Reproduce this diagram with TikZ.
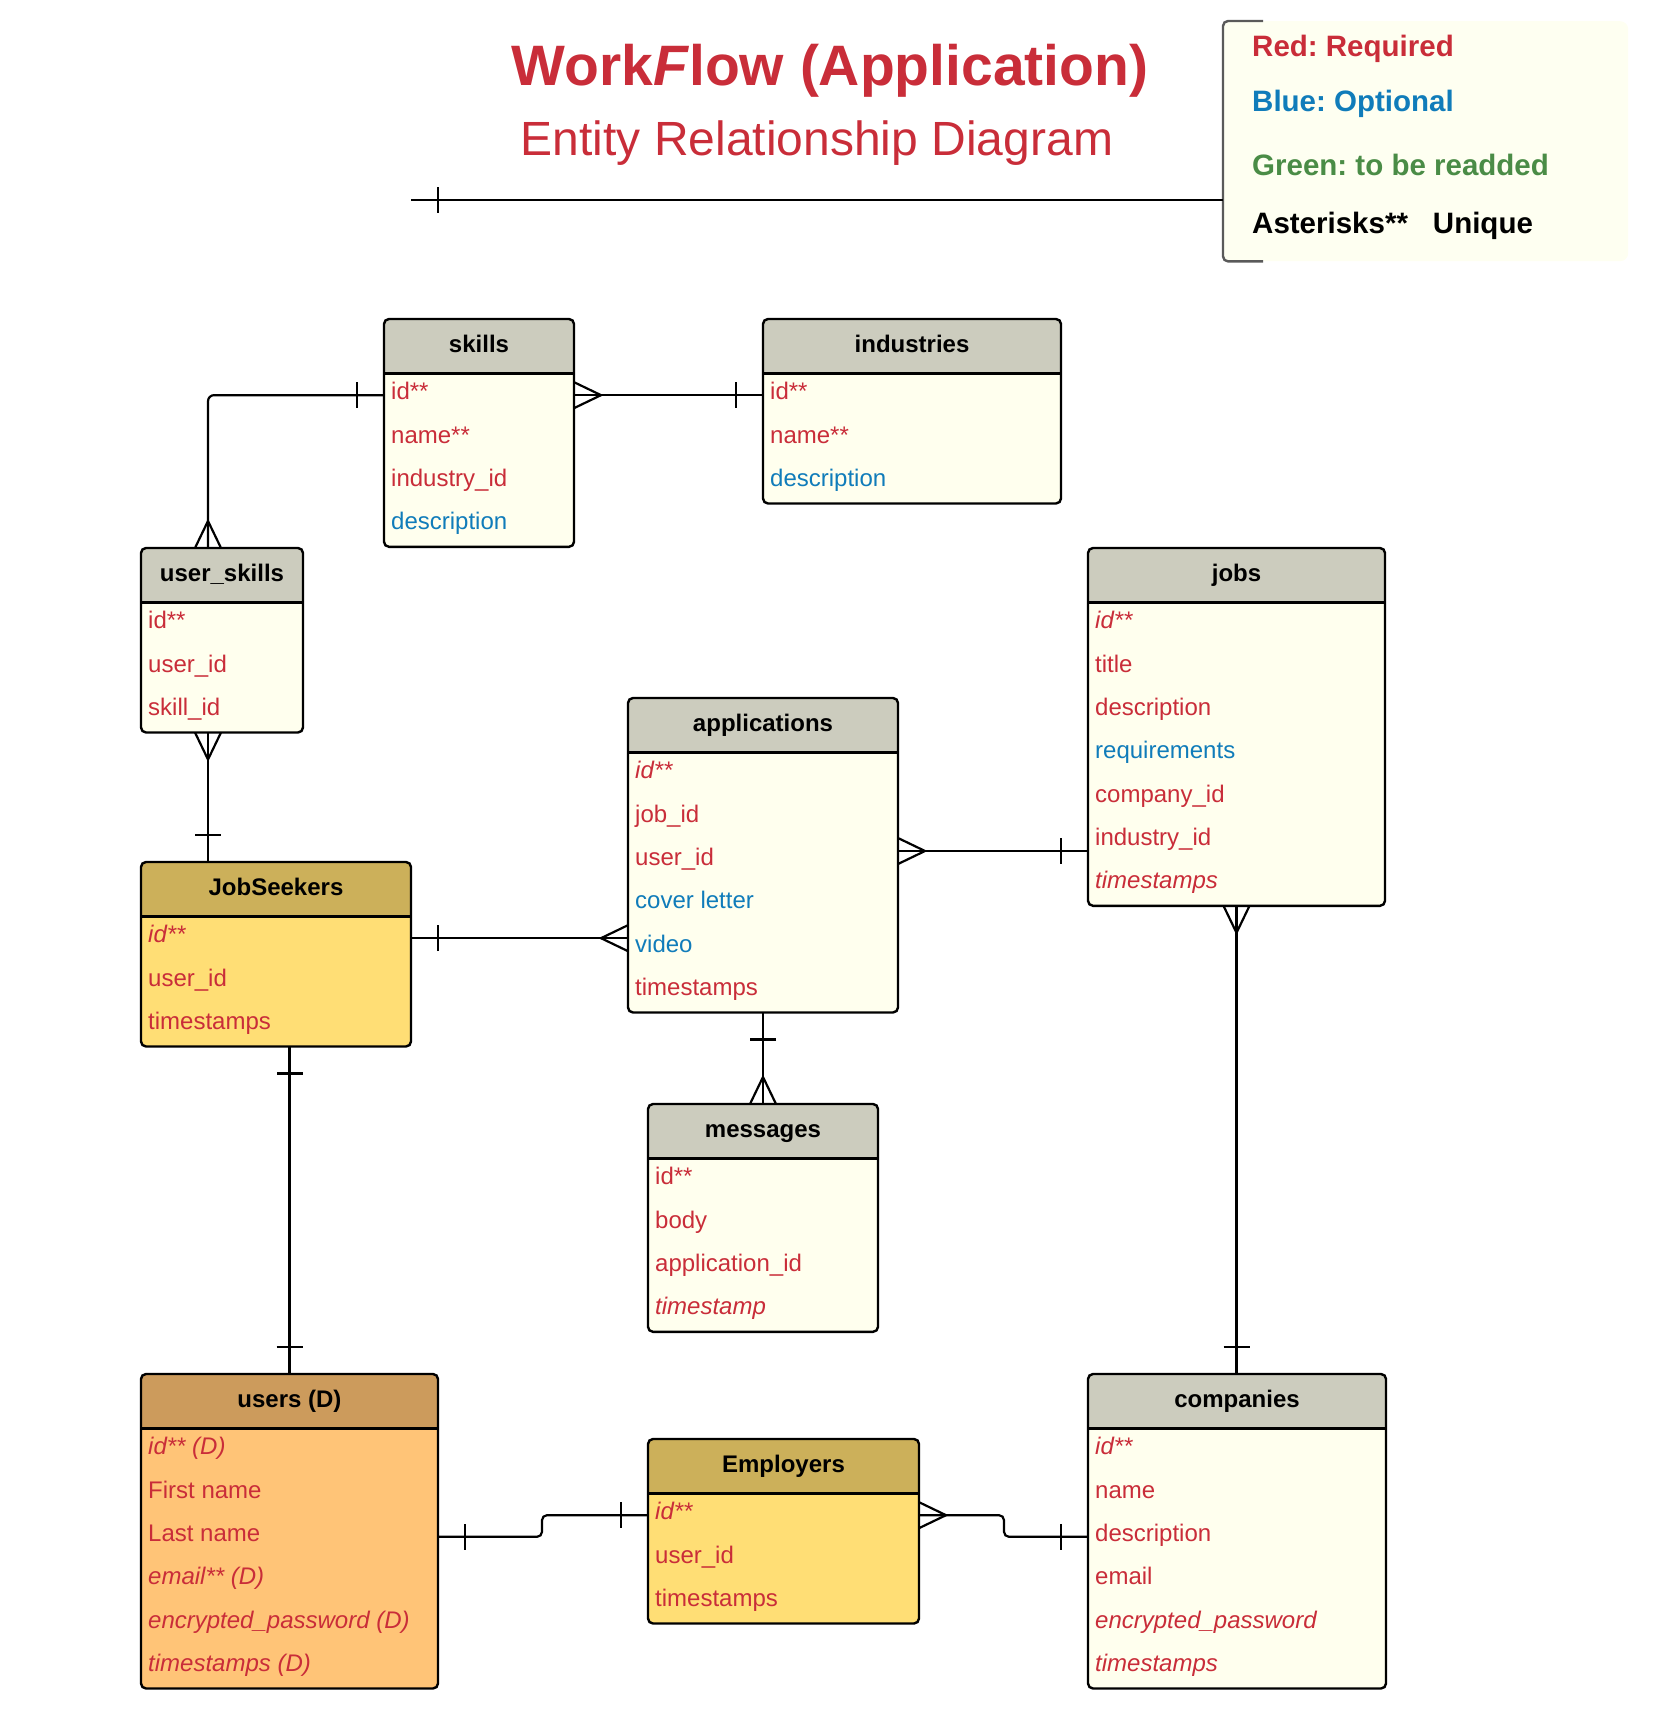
\documentclass[tikz,border=0pt]{standalone}
\usepackage{fontspec}
\setmainfont{Liberation Sans}
\usetikzlibrary{calc}
\frenchspacing
\definecolor{ered}{RGB}{201,45,57}
\definecolor{eblue}{RGB}{16,124,186}
\definecolor{egreen}{RGB}{74,140,70}
\definecolor{hgray}{RGB}{204,204,190}
\definecolor{rcream}{RGB}{255,255,238}
\definecolor{hgold}{RGB}{204,176,90}
\definecolor{ryellow}{RGB}{255,222,117}
\definecolor{hbrown}{RGB}{204,155,92}
\definecolor{rorange}{RGB}{255,196,119}
\definecolor{lfill}{RGB}{254,255,241}
\definecolor{lgray}{RGB}{90,90,90}

\tikzset{
  boxline/.style={line width=2.4pt, black},
  conn/.style={line width=2.2pt, black},
  headtxt/.style={anchor=base, font=\fontsize{24}{28}\selectfont\bfseries, inner sep=0pt},
  rowtxt/.style={anchor=west, font=\fontsize{24}{28}\selectfont, inner xsep=7pt, inner ysep=0pt, text height=16pt, text depth=6.4pt},
  req/.style={text=ered},
  opt/.style={text=eblue},
  legtxt/.style={anchor=base west, font=\fontsize{29.5}{34}\selectfont\bfseries, inner sep=0pt},
}

% entity box: #1 name, #2 x, #3 y, #4 width, #5 rows, #6 header fill, #7 row fill, #8 title
\newcommand\entity[8]{%
  \pgfmathsetmacro\entH{54.5+#5*43.33}%
  \node[anchor=north west, minimum width=#4, minimum height=\entH, inner sep=0pt, outer sep=0pt,
        rounded corners=5pt, fill=#7] (#1) at (#2,#3) {};
  \begin{scope}
    \clip (#1.north west) rectangle ($(#1.north east)+(0,54.5)$);
    \fill[#6, rounded corners=5pt] (#1.north west) rectangle (#1.south east);
  \end{scope}
  \draw[boxline, rounded corners=5pt] (#1.north west) rectangle (#1.south east);
  \draw[boxline] ($(#1.north west)+(0,54.5)$) -- ($(#1.north east)+(0,54.5)$);
  \node[headtxt] (#1-h) at ($(#1.north)+(0,33)$) {#8};
}
% row: #1 entity, #2 index, #3 style, #4 text
\newcommand\erow[4]{%
  \pgfmathsetmacro\rowy{54.5+(#2-0.5)*43.33}%
  \node[rowtxt,#3] (#1-r#2) at ($(#1.north west)+(0,\rowy)$) {#4};
}
% one-bar mark: #1 point at box edge, #2 #3 direction away from box
\newcommand\barmark[3]{%
  \draw[conn] ($#1+({27*(#2)+13*(#3)},{27*(#3)+13*(#2)})$) -- ($#1+({27*(#2)-13*(#3)},{27*(#3)-13*(#2)})$);
}
% crow's foot: #1 point at box edge, #2 #3 direction away from box
\newcommand\crowmark[3]{%
  \draw[conn] ($#1+({13*(#3)},{13*(#2)})$) -- ($#1+({27*(#2)},{27*(#3)})$) -- ($#1-({13*(#3)},{13*(#2)})$);
}

\begin{document}
\begin{tikzpicture}[x=1pt,y=-1pt]
\useasboundingbox (0,0) rectangle (1678,1736);

% title
\node[anchor=base, font=\fontsize{57}{62}\selectfont\bfseries, text=ered, inner sep=0pt] (title) at (830,86) {Work\textit{F}low (Application)};
\node[anchor=base, font=\fontsize{48}{54}\selectfont, text=ered, inner sep=0pt] (subtitle) at (817,156) {Entity Relationship Diagram};

% legend
\node[anchor=north west, minimum width=405, minimum height=240, inner sep=0pt, fill=lfill, rounded corners=8pt] (legend) at (1223,21) {};
\draw[lgray, line width=2.4pt, rounded corners=5pt] ($(legend.north west)+(40,0)$) -- (legend.north west) -- (legend.south west) -- ++(40,0);
\node[legtxt, text=ered] (lg1) at ($(legend.north west)+(29,36)$) {Red: Required};
\node[legtxt, text=eblue] (lg2) at ($(legend.north west)+(29,91)$) {Blue: Optional};
\node[legtxt, text=egreen] (lg3) at ($(legend.north west)+(29,155)$) {Green: to be readded};
\node[legtxt, text=black] (lg4) at ($(legend.north west)+(29,213)$) {Asterisks**\hspace{25pt}Unique};

\coordinate (tline) at (411,200);
\draw[conn] (tline) -- (legend.west |- tline);
\barmark{(tline)}{1}{0}

% entities
\entity{skills}{384}{319}{190}{4}{hgray}{rcream}{skills}
\erow{skills}{1}{req}{id**}
\erow{skills}{2}{req}{name**}
\erow{skills}{3}{req}{industry\_id}
\erow{skills}{4}{opt}{description}

\entity{industries}{763}{319}{298}{3}{hgray}{rcream}{industries}
\erow{industries}{1}{req}{id**}
\erow{industries}{2}{req}{name**}
\erow{industries}{3}{opt}{description}

\entity{userskills}{141}{548}{162}{3}{hgray}{rcream}{user\_skills}
\erow{userskills}{1}{req}{id**}
\erow{userskills}{2}{req}{user\_id}
\erow{userskills}{3}{req}{skill\_id}

\entity{jobs}{1088}{548}{297}{7}{hgray}{rcream}{jobs}
\erow{jobs}{1}{req}{\textit{id**}}
\erow{jobs}{2}{req}{title}
\erow{jobs}{3}{req}{description}
\erow{jobs}{4}{opt}{requirements}
\erow{jobs}{5}{req}{company\_id}
\erow{jobs}{6}{req}{industry\_id}
\erow{jobs}{7}{req}{\textit{timestamps}}

\entity{applications}{628}{698}{270}{6}{hgray}{rcream}{applications}
\erow{applications}{1}{req}{\textit{id**}}
\erow{applications}{2}{req}{job\_id}
\erow{applications}{3}{req}{user\_id}
\erow{applications}{4}{opt}{cover letter}
\erow{applications}{5}{opt}{video}
\erow{applications}{6}{req}{timestamps}

\entity{jobseekers}{141}{862}{270}{3}{hgold}{ryellow}{JobSeekers}
\erow{jobseekers}{1}{req}{\textit{id**}}
\erow{jobseekers}{2}{req}{user\_id}
\erow{jobseekers}{3}{req}{timestamps}

\entity{messages}{648}{1104}{230}{4}{hgray}{rcream}{messages}
\erow{messages}{1}{req}{id**}
\erow{messages}{2}{req}{body}
\erow{messages}{3}{req}{application\_id}
\erow{messages}{4}{req}{\textit{timestamp}}

\entity{users}{141}{1374}{297}{6}{hbrown}{rorange}{users (D)}
\erow{users}{1}{req}{\textit{id** (D)}}
\erow{users}{2}{req}{First name}
\erow{users}{3}{req}{Last name}
\erow{users}{4}{req}{\textit{email** (D)}}
\erow{users}{5}{req}{\textit{encrypted\_password (D)}}
\erow{users}{6}{req}{\textit{timestamps (D)}}

\entity{employers}{648}{1439}{271}{3}{hgold}{ryellow}{Employers}
\erow{employers}{1}{req}{\textit{id**}}
\erow{employers}{2}{req}{user\_id}
\erow{employers}{3}{req}{timestamps}

\entity{companies}{1088}{1374}{298}{6}{hgray}{rcream}{companies}
\erow{companies}{1}{req}{\textit{id**}}
\erow{companies}{2}{req}{name}
\erow{companies}{3}{req}{description}
\erow{companies}{4}{req}{email}
\erow{companies}{5}{req}{\textit{encrypted\_password}}
\erow{companies}{6}{req}{\textit{timestamps}}

% connectors
% skills -- user_skills
\draw[conn, rounded corners=6pt] (skills.west |- skills-r1.west) -| ($(userskills.north west)+(67,0)$);
\barmark{(skills.west |- skills-r1.west)}{-1}{0}
\crowmark{($(userskills.north west)+(67,0)$)}{0}{-1}

% skills -- industries
\draw[conn] (skills.east |- skills-r1.west) -- (industries.west |- industries-r1.west);
\crowmark{(skills.east |- skills-r1.west)}{1}{0}
\barmark{(industries.west |- industries-r1.west)}{-1}{0}

% user_skills -- jobseekers
\draw[conn] ($(userskills.south west)+(67,0)$) -- ($(jobseekers.north west)+(67,0)$);
\crowmark{($(userskills.south west)+(67,0)$)}{0}{1}
\barmark{($(jobseekers.north west)+(67,0)$)}{0}{-1}

% jobseekers -- applications
\draw[conn] (jobseekers.east |- jobseekers-r1.west) -- (applications.west |- jobseekers-r1.west);
\barmark{(jobseekers.east |- jobseekers-r1.west)}{1}{0}
\crowmark{(applications.west |- jobseekers-r1.west)}{-1}{0}

% applications -- jobs
\coordinate (apj) at ($(applications.north east)+(0,153)$);
\draw[conn] (apj) -- (jobs.west |- apj);
\crowmark{(apj)}{1}{0}
\barmark{(jobs.west |- apj)}{-1}{0}

% applications -- messages
\draw[conn] (applications.south) -- (messages.north);
\barmark{(applications.south)}{0}{1}
\crowmark{(messages.north)}{0}{-1}

% jobs -- companies
\draw[conn] (jobs.south) -- (jobs.south |- companies.north);
\crowmark{(jobs.south)}{0}{1}
\barmark{(jobs.south |- companies.north)}{0}{-1}

% jobseekers -- users
\draw[conn] (users.north |- jobseekers.south) -- (users.north);
\barmark{(users.north |- jobseekers.south)}{0}{1}
\barmark{(users.north)}{0}{-1}

% users -- employers
\draw[conn, rounded corners=5pt] (users.east |- users-r3.west) -- ++(104,0) |- (employers.west |- employers-r1.west);
\barmark{(users.east |- users-r3.west)}{1}{0}
\barmark{(employers.west |- employers-r1.west)}{-1}{0}

% employers -- companies
\draw[conn, rounded corners=5pt] (employers.east |- employers-r1.west) -- ++(85,0) |- (companies.west |- companies-r3.west);
\crowmark{(employers.east |- employers-r1.west)}{1}{0}
\barmark{(companies.west |- companies-r3.west)}{-1}{0}

\end{tikzpicture}
\end{document}
